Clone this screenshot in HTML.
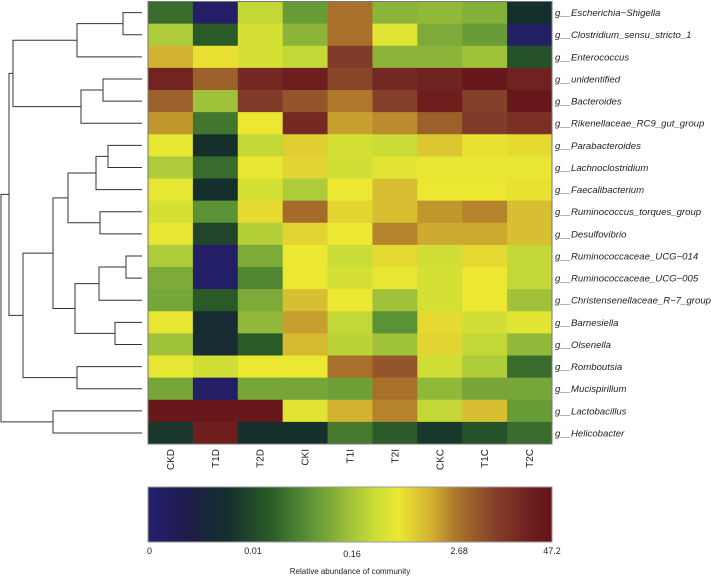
<!DOCTYPE html>
<html><head><meta charset="utf-8"><style>
html,body{margin:0;padding:0;background:#fff;}
svg{display:block;font-family:"Liberation Sans",sans-serif;}
</style></head><body>
<svg id="c" width="711" height="579"></svg>
<script>
const cols=["CKD","T1D","T2D","CKI","T1I","T2I","CKC","T1C","T2C"];
const rows=["g__Escherichia\u2212Shigella","g__Clostridium_sensu_stricto_1","g__Enterococcus","g__unidentified","g__Bacteroides","g__Rikenellaceae_RC9_gut_group","g__Parabacteroides","g__Lachnoclostridium","g__Faecalibacterium","g__Ruminococcus_torques_group","g__Desulfovibrio","g__Ruminococcaceae_UCG\u2212014","g__Ruminococcaceae_UCG\u2212005","g__Christensenellaceae_R\u22127_group","g__Barnesiella","g__Olsenella","g__Romboutsia","g__Mucispirillum","g__Lactobacillus","g__Helicobacter"];
// color-scale position (0..1) of each cell
const values=[
[0.33,0.02,0.55,0.42,0.77,0.47,0.48,0.46,0.2],
[0.52,0.3,0.58,0.47,0.77,0.6,0.45,0.42,0.03],
[0.7,0.63,0.58,0.55,0.87,0.47,0.47,0.5,0.28],
[0.93,0.8,0.92,0.95,0.85,0.92,0.94,0.98,0.94],
[0.8,0.5,0.87,0.82,0.76,0.86,0.95,0.86,0.98],
[0.73,0.35,0.62,0.92,0.72,0.74,0.8,0.87,0.9],
[0.61,0.2,0.55,0.66,0.58,0.56,0.67,0.63,0.64],
[0.52,0.33,0.61,0.65,0.57,0.6,0.61,0.61,0.61],
[0.61,0.2,0.58,0.52,0.62,0.68,0.62,0.62,0.63],
[0.58,0.4,0.64,0.78,0.65,0.68,0.73,0.75,0.68],
[0.61,0.25,0.53,0.65,0.62,0.75,0.71,0.71,0.68],
[0.52,0.02,0.45,0.62,0.56,0.64,0.57,0.64,0.55],
[0.45,0.02,0.38,0.62,0.58,0.61,0.58,0.62,0.55],
[0.44,0.3,0.45,0.68,0.62,0.5,0.58,0.62,0.5],
[0.61,0.18,0.48,0.72,0.55,0.4,0.64,0.57,0.6],
[0.5,0.18,0.3,0.69,0.54,0.5,0.65,0.55,0.48],
[0.61,0.57,0.62,0.62,0.77,0.82,0.57,0.52,0.33],
[0.44,0.02,0.44,0.44,0.43,0.77,0.48,0.44,0.44],
[0.98,0.98,0.98,0.6,0.7,0.75,0.55,0.68,0.42],
[0.22,0.95,0.2,0.2,0.36,0.3,0.22,0.28,0.33]];
const tickLabels=["0","0.01","0.16","2.68","47.2"];
const tickFracs=[0,0.26,0.505,0.77,1];
// dendrogram merges: [childA, childB, height-x]
const merges=[[0,1,123],["n0",2,77],[3,4,103],["n2",5,81],["n1","n3",13],
[6,7,108],["n5",8,96],[9,10,100],["n6","n7",68],
[11,12,126],["n9",13,99],[14,15,115],["n10","n11",75],
["n8","n12",53],[16,17,77],["n13","n14",23],["n4","n15",9],
[18,19,53],["n16","n17",1]];

const stops=[[0,"#25206e"],[0.1,"#1c1c48"],[0.2,"#15302c"],[0.3,"#2a5a28"],[0.4,"#5a9236"],[0.5,"#a0c23a"],[0.56,"#cadc36"],[0.62,"#ece832"],[0.7,"#d2b230"],[0.77,"#a8702a"],[0.86,"#84402a"],[0.96,"#6a1a1c"],[1,"#651518"]];
function hx(h){return [1,3,5].map(i=>parseInt(h.substr(i,2),16));}
function cmap(t){t=Math.max(0,Math.min(1,t));for(let i=1;i<stops.length;i++){if(t<=stops[i][0]){const a=stops[i-1],b=stops[i];const f=(t-a[0])/(b[0]-a[0]);const ca=hx(a[1]),cb=hx(b[1]);return "rgb("+ca.map((v,k)=>Math.round(v+(cb[k]-v)*f)).join(",")+")";}}return stops[stops.length-1][1];}
const NS="http://www.w3.org/2000/svg",svg=document.getElementById("c");
function el(t,a,p){const e=document.createElementNS(NS,t);for(const k in a)e.setAttribute(k,a[k]);(p||svg).appendChild(e);return e;}
const X0=148,X1=552,Y0=1.5,Y1=444;
const cw=(X1-X0)/cols.length,rh=(Y1-Y0)/rows.length;
const xS=i=>X0+i*cw,yS=i=>Y0+i*rh;
const g=el("g",{});


values.forEach((r,ri)=>r.forEach((v,ci)=>{
 const c=el("rect",{x:xS(ci),y:yS(ri),width:cw+0.5,height:rh+0.5,fill:cmap(v)},g);
 
 
}));
el("rect",{x:X0,y:Y0,width:X1-X0,height:Y1-Y0,fill:"none",stroke:"#777","stroke-width":1});
rows.forEach((n,i)=>{
 const t=el("text",{x:X1+3,y:yS(i)+rh/2+3.5,"font-size":"9.6","font-style":"italic",fill:"#222"});t.textContent=n;
 
 
});
cols.forEach((n,i)=>{
 const cx=xS(i)+cw/2+3.5;
 const t=el("text",{x:0,y:0,transform:"translate("+cx+",449) rotate(-90)","text-anchor":"end","font-size":"10",fill:"#222"});t.textContent=n;
 
 
});
const LX=142;const pos={};
rows.forEach((_,i)=>pos[i]={x:LX,y:yS(i)+rh/2});
const dg=el("g",{stroke:"#333","stroke-width":1,fill:"none"});


merges.forEach((m,k)=>{
 const a=pos[m[0]],b=pos[m[1]],h=m[2];
 el("path",{d:"M"+a.x+","+a.y+"H"+h+"V"+b.y+"H"+b.x},dg);
 pos["n"+k]={x:h,y:(a.y+b.y)/2};
});
const defs=el("defs",{});const lg=el("linearGradient",{id:"gr",x1:"0",x2:"1",y1:"0",y2:"0"},defs);
for(let i=0;i<=50;i++){el("stop",{offset:i/50,"stop-color":cmap(i/50)},lg);}
const cb=el("rect",{x:X0,y:487,width:X1-X0,height:55,fill:"url(#gr)",stroke:"#999","stroke-width":1});


tickLabels.forEach((l,i)=>{
 const x=X0+tickFracs[i]*(X1-X0);
 const t=el("text",{x:i===0?x-1:x,y:i===2?557:554,"font-size":"9","text-anchor":i===0?"start":"middle",fill:"#222"});t.textContent=l;
 
 
});
const tt=el("text",{x:(X0+X1)/2,y:574,"font-size":"8","text-anchor":"middle",fill:"#222"});tt.textContent="Relative abundance of community";


</script>
</body></html>
